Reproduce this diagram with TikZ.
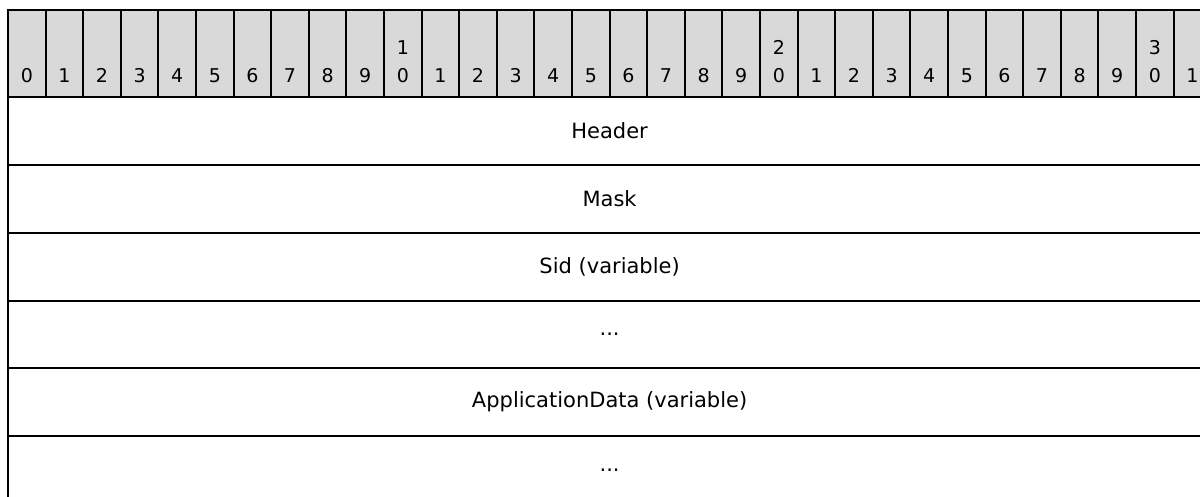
\documentclass[tikz,border=0pt]{standalone}
\usepackage{fontspec}
\setmainfont{DejaVu Sans}
\definecolor{cellgray}{HTML}{D9D9D9}
\tikzset{
  bitcell/.style={fill=cellgray, draw=black, line width=2pt},
  rowline/.style={draw=black, line width=2pt},
  fieldlabel/.style={inner sep=0pt, anchor=center, font=\fontsize{21}{26}\selectfont}
}
\begin{document}
\begin{tikzpicture}[x=1pt, y=-1pt, font=\fontsize{19}{28}\selectfont]
  \useasboundingbox (0,0) rectangle (1200,497);
  \clip (0,0) rectangle (1200,497);
  % bit ruler
  \foreach \i in {0,...,31} {
    \pgfmathsetmacro\xl{8+\i*37.6}
    \pgfmathsetmacro\xc{8+(\i+0.5)*37.6}
    \pgfmathtruncatemacro\d{mod(\i,10)}
    \pgfmathtruncatemacro\t{\i/10}
    \draw[bitcell] (\xl,10) rectangle ++(37.6,87);
    \node[anchor=base, inner sep=0pt] (bit\i) at (\xc,83) {\d};
    \ifnum\d=0 \ifnum\i>0
      \node[anchor=base, inner sep=0pt] (tens\i) at (\xc,55) {\t};
    \fi\fi
  }
  % fields
  \draw[rowline] (8,10) -- (8,497);
  \foreach \y in {165,233,301,368,436}
    \draw[rowline] (8,\y) -- (1212,\y);
  \node[fieldlabel] (header) at (609.6,131) {Header};
  \node[fieldlabel] (mask) at (609.6,199) {Mask};
  \node[fieldlabel] (sid) at (609.6,267) {Sid (variable)};
  \node[fieldlabel] (sidmore) at (609.6,334) {...};
  \node[fieldlabel] (appdata) at (609.6,402) {ApplicationData (variable)};
  \node[fieldlabel] (appmore) at (609.6,470) {...};
\end{tikzpicture}
\end{document}
